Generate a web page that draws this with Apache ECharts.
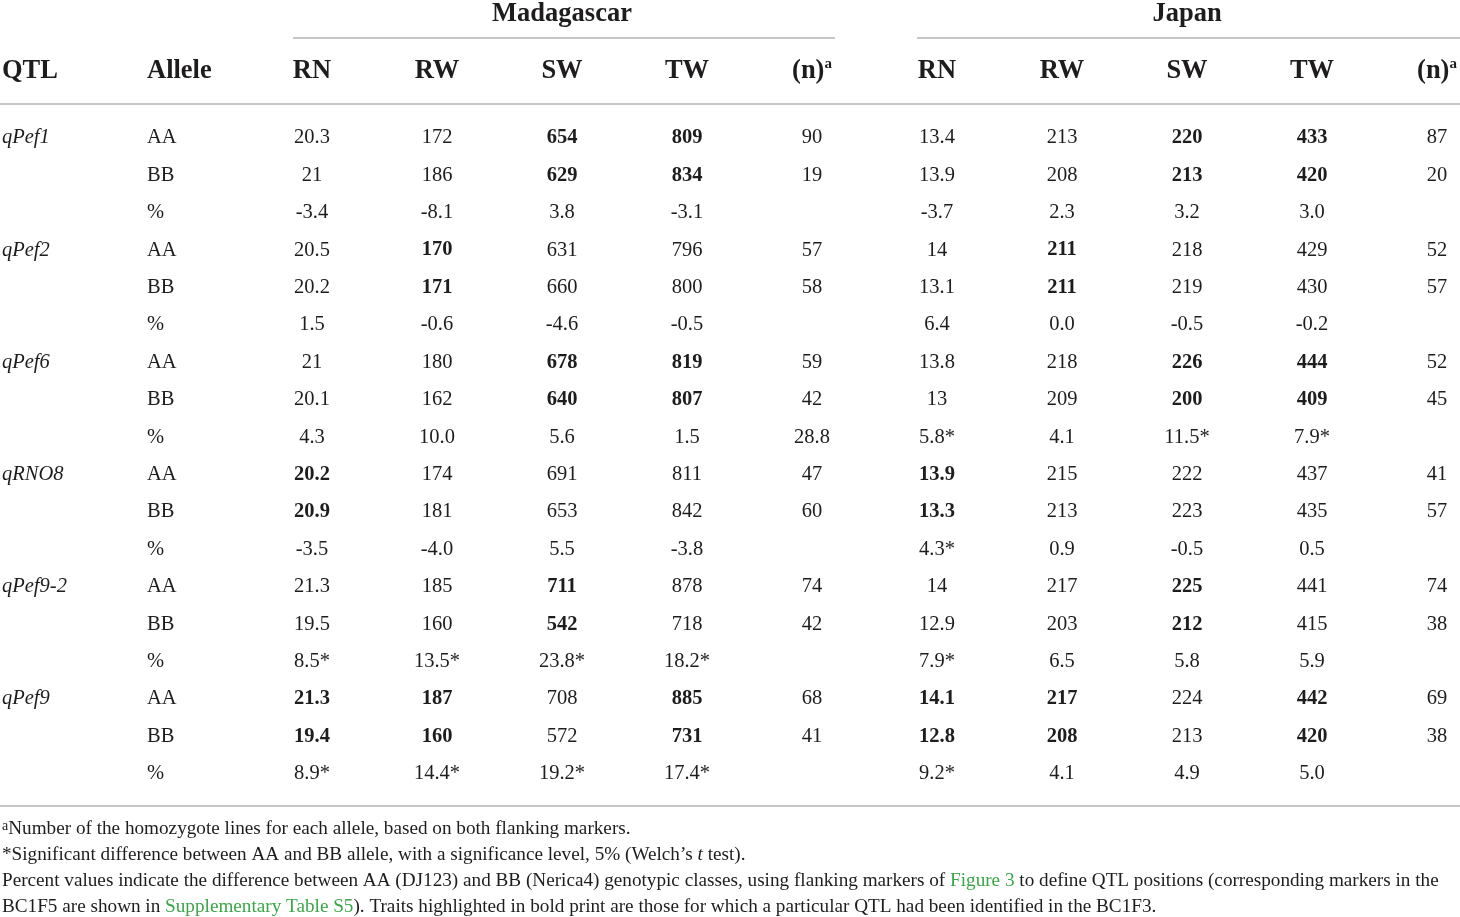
<!DOCTYPE html>
<html>
<head>
<meta charset="utf-8">
<script src="https://cdn.jsdelivr.net/npm/echarts@6/dist/echarts.min.js"></script>
<style>
	html,body{margin:0;padding:0;background:#fff;}
	#page{width:1460px;height:917px;}
</style>
</head>
<body>
<div id="page"></div>
<script>
// 表格数据
var groupNames = ['Madagascar', 'Japan'];
var traitNames = ['RN', 'RW', 'SW', 'TW', '(n)'];
var qtlNames = ['qPef1', 'qPef2', 'qPef6', 'qRNO8', 'qPef9-2', 'qPef9'];
var alleleNames = ['AA', 'BB', '%'];

var madagascar = [
	['20.3', '172', '654', '809', '90'],
	['21', '186', '629', '834', '19'],
	['-3.4', '-8.1', '3.8', '-3.1', ''],
	['20.5', '170', '631', '796', '57'],
	['20.2', '171', '660', '800', '58'],
	['1.5', '-0.6', '-4.6', '-0.5', ''],
	['21', '180', '678', '819', '59'],
	['20.1', '162', '640', '807', '42'],
	['4.3', '10.0', '5.6', '1.5', '28.8'],
	['20.2', '174', '691', '811', '47'],
	['20.9', '181', '653', '842', '60'],
	['-3.5', '-4.0', '5.5', '-3.8', ''],
	['21.3', '185', '711', '878', '74'],
	['19.5', '160', '542', '718', '42'],
	['8.5*', '13.5*', '23.8*', '18.2*', ''],
	['21.3', '187', '708', '885', '68'],
	['19.4', '160', '572', '731', '41'],
	['8.9*', '14.4*', '19.2*', '17.4*', '']
];
var japan = [
	['13.4', '213', '220', '433', '87'],
	['13.9', '208', '213', '420', '20'],
	['-3.7', '2.3', '3.2', '3.0', ''],
	['14', '211', '218', '429', '52'],
	['13.1', '211', '219', '430', '57'],
	['6.4', '0.0', '-0.5', '-0.2', ''],
	['13.8', '218', '226', '444', '52'],
	['13', '209', '200', '409', '45'],
	['5.8*', '4.1', '11.5*', '7.9*', ''],
	['13.9', '215', '222', '437', '41'],
	['13.3', '213', '223', '435', '57'],
	['4.3*', '0.9', '-0.5', '0.5', ''],
	['14', '217', '225', '441', '74'],
	['12.9', '203', '212', '415', '38'],
	['7.9*', '6.5', '5.8', '5.9', ''],
	['14.1', '217', '224', '442', '69'],
	['12.8', '208', '213', '420', '38'],
	['9.2*', '4.1', '4.9', '5.0', '']
];
// 粗体所在列（每行）
var madagascarBold = [[2,3],[2,3],[],[1],[1],[],[2,3],[2,3],[],[0],[0],[],[2],[2],[],[0,1,3],[0,1,3],[]];
var japanBold = [[2,3],[2,3],[],[1],[1],[],[2,3],[2,3],[],[0],[0],[],[2],[2],[],[0,1,3],[0,1,3],[]];

var fontFam = "'Liberation Serif','DejaVu Serif',serif";
var ink = '#1e1c1d';
var green = '#3aa647';
var noteSize = 19.2;

// 单元格
var cells = [];
function pushBlock(block, bold, offset){
	block.forEach(function(row, r){
		row.forEach(function(txt, c){
			if(txt === '') return;
			var item = {name: txt, value: [c + offset, r]};
			if(bold[r].indexOf(c) > -1){
				item.label = {fontWeight: 'bold'};
			}
			cells.push(item);
		});
	});
}
pushBlock(madagascar, madagascarBold, 0);
pushBlock(japan, japanBold, 5);

// 左侧两列
var leftCells = [];
qtlNames.forEach(function(q, i){
	leftCells.push({name: q, value: [-2.48, i * 3], label: {fontStyle: 'italic'}});
	alleleNames.forEach(function(a, j){
		leftCells.push({name: a, value: [-1.32, i * 3 + j]});
	});
});

// 表头
var headRow = -1.79, groupRow = -3.31;
var heads = [
	{name: 'QTL', value: [-2.48, headRow], label: {position: 'right', distance: 0}},
	{name: 'Allele', value: [-1.32, headRow], label: {position: 'right', distance: 0}}
];
groupNames.forEach(function(g, gi){
	heads.push({name: g, value: [2 + gi * 5, groupRow]});
	traitNames.forEach(function(t, ti){
		heads.push({name: ti == 4 ? '{b|' + t + '}{sup|a}' : t, value: [ti + gi * 5, headRow]});
	});
});

var chart = echarts.init(document.getElementById('page'));
chart.setOption({
	animation: false,
	grid: {left: 0, right: 0, top: 0, bottom: 0},
	xAxis: {type: 'value', min: -2.496, max: 9.184, show: false},
	yAxis: {type: 'value', inverse: true, min: -3.635, max: 20.88, show: false},
	series: [
		{
			type: 'scatter',
			symbolSize: 0,
			silent: true,
			itemStyle: {opacity: 1},
			data: cells,
			label: {
				show: true, position: 'inside', formatter: '{b}', offset: [0, 2],
				color: ink, opacity: 1, fontFamily: fontFam, fontSize: 20.5
			},
			markLine: {
				symbol: 'none', silent: true,
				label: {show: false},
				lineStyle: {color: '#c6c6c6', width: 2, type: 'solid', opacity: 1},
				data: [
					[{coord: [-0.152, -2.62]}, {coord: [4.184, -2.62]}],
					[{coord: [4.84, -2.62]}, {coord: [9.184, -2.62]}],
					[{coord: [-2.496, -0.855]}, {coord: [9.184, -0.855]}],
					[{coord: [-2.496, 17.91]}, {coord: [9.184, 17.91]}]
				]
			}
		},
		{
			type: 'scatter',
			symbolSize: 0,
			silent: true,
			itemStyle: {opacity: 1},
			data: leftCells,
			label: {
				show: true, position: 'right', distance: 0, formatter: '{b}', offset: [0, 2],
				color: ink, opacity: 1, fontFamily: fontFam, fontSize: 20.5
			}
		},
		{
			type: 'scatter',
			symbolSize: 0,
			silent: true,
			itemStyle: {opacity: 1},
			data: heads,
			label: {
				show: true, position: 'inside', formatter: '{b}', offset: [0, 2],
				color: ink, opacity: 1, fontFamily: fontFam, fontSize: 26.5, fontWeight: 'bold',
				rich: {
					b: {fontFamily: fontFam, fontSize: 26.5, fontWeight: 'bold', color: ink, lineHeight: 28},
					sup: {fontFamily: fontFam, fontSize: 15, fontWeight: 'bold', color: ink, lineHeight: 15, verticalAlign: 'top'}
				}
			}
		}
	],
	graphic: [
		{
			type: 'text', left: 2, top: 819,
			style: {
				text: '{sup|a}Number of the homozygote lines for each allele, based on both flanking markers.',
				font: noteSize + 'px ' + fontFam, fill: ink,
				rich: {sup: {fontSize: 14, fontFamily: fontFam, fill: ink, lineHeight: 14, verticalAlign: 'top'}}
			}
		},
		{
			type: 'text', left: 2, top: 845,
			style: {
				text: '*Significant difference between AA and BB allele, with a significance level, 5% (Welch\u2019s {i|t} test).',
				font: noteSize + 'px ' + fontFam, fill: ink,
				rich: {i: {fontSize: noteSize, fontFamily: fontFam, fontStyle: 'italic', fill: ink}}
			}
		},
		{
			type: 'text', left: 2, top: 871,
			style: {
				text: 'Percent values indicate the difference between AA (DJ123) and BB (Nerica4) genotypic classes, using flanking markers of {g|Figure 3} to define QTL positions (corresponding markers in the',
				font: noteSize + 'px ' + fontFam, fill: ink,
				rich: {g: {fontSize: noteSize, fontFamily: fontFam, fill: green}}
			}
		},
		{
			type: 'text', left: 2, top: 897,
			style: {
				text: 'BC1F5 are shown in {g|Supplementary Table S5}). Traits highlighted in bold print are those for which a particular QTL had been identified in the BC1F3.',
				font: noteSize + 'px ' + fontFam, fill: ink,
				rich: {g: {fontSize: noteSize, fontFamily: fontFam, fill: green}}
			}
		}
	]
});
</script>
</body>
</html>
